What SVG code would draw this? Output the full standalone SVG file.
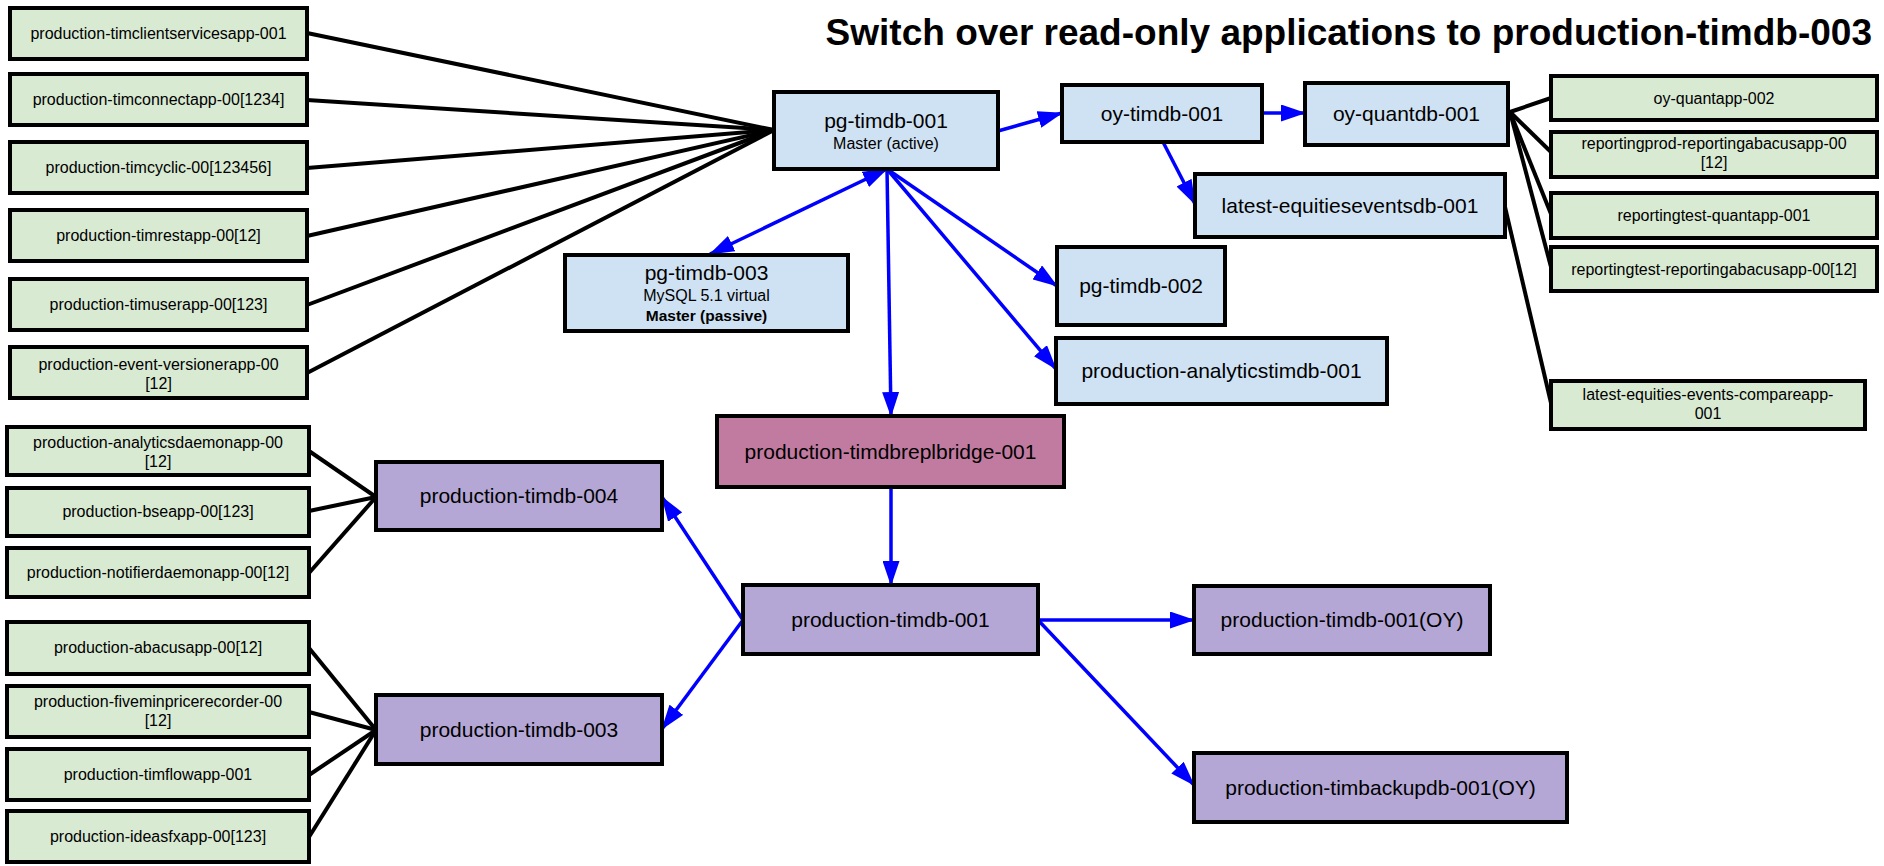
<svg xmlns="http://www.w3.org/2000/svg" width="1884" height="866" viewBox="0 0 1884 866">
<defs>
<style>
text{font-family:"Liberation Sans",Arial,sans-serif;fill:#000;text-anchor:middle}
.box{stroke:#000;stroke-width:4}
.g{fill:#d9ead3}.b{fill:#cfe2f3}.p{fill:#b4a7d6}.k{fill:#c27ba0}
.st{font-size:16px}
.mt{font-size:21px}
.sub{font-size:16px}
.bold{font-size:15.5px;font-weight:bold}
.bl{stroke:#000;stroke-width:4;fill:none}
.ar{stroke:#0000ff;stroke-width:3.5;fill:none;marker-end:url(#ah)}
.title{font-size:37px;font-weight:bold;text-anchor:end}
</style>
<marker id="ah" viewBox="0 0 25 17" refX="24" refY="8.5" markerWidth="25" markerHeight="17" markerUnits="userSpaceOnUse" orient="auto-start-reverse">
<path d="M0,0 L25,8.5 L0,17 z" fill="#0000ff"/>
</marker>
</defs>
<rect width="1884" height="866" fill="#fff"/>
<text class="title" x="1872" y="45">Switch over read-only applications to production-timdb-003</text>

<g id="connectors">
<g id="black-lines">
<line class="bl" x1="307" y1="33" x2="774" y2="130"/>
<line class="bl" x1="307" y1="100" x2="774" y2="130"/>
<line class="bl" x1="307" y1="168" x2="774" y2="130"/>
<line class="bl" x1="307" y1="236" x2="774" y2="130"/>
<line class="bl" x1="307" y1="305" x2="774" y2="130"/>
<line class="bl" x1="307" y1="373" x2="774" y2="130"/>
<line class="bl" x1="309" y1="451" x2="376" y2="497"/>
<line class="bl" x1="309" y1="511" x2="376" y2="497"/>
<line class="bl" x1="309" y1="573" x2="376" y2="497"/>
<line class="bl" x1="309" y1="648" x2="376" y2="730"/>
<line class="bl" x1="309" y1="712" x2="376" y2="730"/>
<line class="bl" x1="309" y1="775" x2="376" y2="730"/>
<line class="bl" x1="309" y1="837" x2="376" y2="730"/>
<line class="bl" x1="1510" y1="112" x2="1551" y2="98"/>
<line class="bl" x1="1510" y1="112" x2="1551" y2="152"/>
<line class="bl" x1="1510" y1="112" x2="1551" y2="214"/>
<line class="bl" x1="1510" y1="112" x2="1551" y2="267"/>
<line class="bl" x1="1505" y1="207" x2="1551" y2="403"/>
</g>
<g id="blue-arrows">
<line class="ar" x1="998" y1="131" x2="1062" y2="113"/>
<line class="ar" x1="1262" y1="113" x2="1305" y2="113"/>
<line class="ar" x1="1163" y1="142" x2="1195" y2="204"/>
<line class="ar" x1="887" y1="169" x2="710" y2="254" style="marker-start:url(#ah)"/>
<line class="ar" x1="887" y1="169" x2="1057" y2="286"/>
<line class="ar" x1="887" y1="169" x2="1056" y2="369"/>
<line class="ar" x1="887" y1="169" x2="891" y2="416"/>
<line class="ar" x1="891" y1="487" x2="891" y2="585"/>
<line class="ar" x1="743" y1="620" x2="662" y2="497"/>
<line class="ar" x1="743" y1="620" x2="662" y2="729"/>
<line class="ar" x1="1038" y1="620" x2="1194" y2="620"/>
<line class="ar" x1="1038" y1="620" x2="1194" y2="785"/>
</g>
</g>

<g id="n-clientservices"><rect class="box g" x="10" y="8" width="297" height="51"/><text class="st" x="158.5" y="39">production-timclientservicesapp-001</text></g>
<g id="n-connectapp"><rect class="box g" x="10" y="74" width="297" height="51"/><text class="st" x="158.5" y="105">production-timconnectapp-00[1234]</text></g>
<g id="n-cyclic"><rect class="box g" x="10" y="142" width="297" height="51"/><text class="st" x="158.5" y="173">production-timcyclic-00[123456]</text></g>
<g id="n-restapp"><rect class="box g" x="10" y="210" width="297" height="51"/><text class="st" x="158.5" y="241">production-timrestapp-00[12]</text></g>
<g id="n-userapp"><rect class="box g" x="10" y="279" width="297" height="51"/><text class="st" x="158.5" y="310">production-timuserapp-00[123]</text></g>
<g id="n-eventversioner"><rect class="box g" x="10" y="347" width="297" height="51"/><text class="st" x="158.5" y="370">production-event-versionerapp-00</text><text class="st" x="158.5" y="389">[12]</text></g>

<g id="n-analyticsdaemon"><rect class="box g" x="7" y="427" width="302" height="48"/><text class="st" x="158" y="448">production-analyticsdaemonapp-00</text><text class="st" x="158" y="467">[12]</text></g>
<g id="n-bseapp"><rect class="box g" x="7" y="488" width="302" height="48"/><text class="st" x="158" y="517">production-bseapp-00[123]</text></g>
<g id="n-notifierdaemon"><rect class="box g" x="7" y="548" width="302" height="49"/><text class="st" x="158" y="578">production-notifierdaemonapp-00[12]</text></g>
<g id="n-abacusapp"><rect class="box g" x="7" y="622" width="302" height="52"/><text class="st" x="158" y="653">production-abacusapp-00[12]</text></g>
<g id="n-fivemin"><rect class="box g" x="7" y="686" width="302" height="51"/><text class="st" x="158" y="707">production-fiveminpricerecorder-00</text><text class="st" x="158" y="726">[12]</text></g>
<g id="n-timflowapp"><rect class="box g" x="7" y="749" width="302" height="51"/><text class="st" x="158" y="780">production-timflowapp-001</text></g>
<g id="n-ideasfxapp"><rect class="box g" x="7" y="811" width="302" height="51"/><text class="st" x="158" y="842">production-ideasfxapp-00[123]</text></g>

<g id="n-oyquantapp"><rect class="box g" x="1551" y="76" width="326" height="44"/><text class="st" x="1714" y="104">oy-quantapp-002</text></g>
<g id="n-reportingprod"><rect class="box g" x="1551" y="132" width="326" height="45"/><text class="st" x="1714" y="149">reportingprod-reportingabacusapp-00</text><text class="st" x="1714" y="168">[12]</text></g>
<g id="n-reportingtestquant"><rect class="box g" x="1551" y="193" width="326" height="45"/><text class="st" x="1714" y="221">reportingtest-quantapp-001</text></g>
<g id="n-reportingtestabacus"><rect class="box g" x="1551" y="247" width="326" height="44"/><text class="st" x="1714" y="275">reportingtest-reportingabacusapp-00[12]</text></g>
<g id="n-compareapp"><rect class="box g" x="1551" y="381" width="314" height="48"/><text class="st" x="1708" y="400">latest-equities-events-compareapp-</text><text class="st" x="1708" y="419">001</text></g>

<g id="n-pg-timdb-001"><rect class="box b" x="774" y="92" width="224" height="77"/><text class="mt" x="886" y="128">pg-timdb-001</text><text class="sub" x="886" y="149">Master (active)</text></g>
<g id="n-oy-timdb-001"><rect class="box b" x="1062" y="85" width="200" height="57"/><text class="mt" x="1162" y="121">oy-timdb-001</text></g>
<g id="n-oy-quantdb-001"><rect class="box b" x="1305" y="83" width="203" height="62"/><text class="mt" x="1406.5" y="121">oy-quantdb-001</text></g>
<g id="n-latest-equitieseventsdb"><rect class="box b" x="1195" y="174" width="310" height="63"/><text class="mt" x="1350" y="213">latest-equitieseventsdb-001</text></g>
<g id="n-pg-timdb-002"><rect class="box b" x="1057" y="247" width="168" height="78"/><text class="mt" x="1141" y="293">pg-timdb-002</text></g>
<g id="n-analyticstimdb"><rect class="box b" x="1056" y="338" width="331" height="66"/><text class="mt" x="1221.5" y="378">production-analyticstimdb-001</text></g>
<g id="n-pg-timdb-003"><rect class="box b" x="565" y="255" width="283" height="76"/><text class="mt" x="706.5" y="280">pg-timdb-003</text><text class="sub" x="706.5" y="301">MySQL 5.1 virtual</text><text class="bold" x="706.5" y="321">Master (passive)</text></g>

<g id="n-replbridge"><rect class="box k" x="717" y="416" width="347" height="71"/><text class="mt" x="890.5" y="459">production-timdbreplbridge-001</text></g>
<g id="n-production-timdb-001"><rect class="box p" x="743" y="585" width="295" height="69"/><text class="mt" x="890.5" y="627">production-timdb-001</text></g>
<g id="n-production-timdb-001-oy"><rect class="box p" x="1194" y="586" width="296" height="68"/><text class="mt" x="1342" y="627">production-timdb-001(OY)</text></g>
<g id="n-timbackupdb"><rect class="box p" x="1194" y="753" width="373" height="69"/><text class="mt" x="1380.5" y="795">production-timbackupdb-001(OY)</text></g>
<g id="n-production-timdb-004"><rect class="box p" x="376" y="462" width="286" height="68"/><text class="mt" x="519" y="503">production-timdb-004</text></g>
<g id="n-production-timdb-003"><rect class="box p" x="376" y="695" width="286" height="69"/><text class="mt" x="519" y="737">production-timdb-003</text></g>
</svg>
